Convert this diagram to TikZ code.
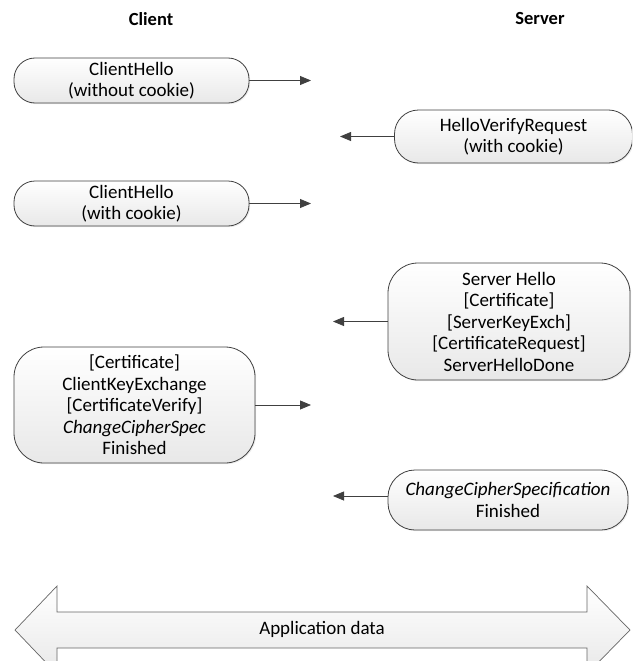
\documentclass[tikz,border=0pt]{standalone}
\usepackage{fontspec}
\setmainfont{Carlito}
\usetikzlibrary{arrows.meta,shadows}
\definecolor{edge}{HTML}{404040}
\tikzset{
  msg/.style={draw=edge, line width=0.8pt, top color=white, bottom color=black!9,
    align=center, inner sep=0pt, font=\fontsize{19}{21.5}\selectfont,
    drop shadow={opacity=0.15, shadow xshift=1.2pt, shadow yshift=-1.2pt}},
  flow/.style={draw=edge, line width=0.8pt, -{Triangle[length=11pt,width=9pt]}},
  head/.style={font=\fontsize{18.5}{20}\selectfont\bfseries}
}
\begin{document}
\begin{tikzpicture}[x=1pt,y=-1pt]
\useasboundingbox (0,0) rectangle (632,661);
\clip (0,0) rectangle (632,661);

% column headings
\node[head] (client) at (151,19) {Client};
\node[head] (server) at (540,19) {Server};

% handshake messages
\node[msg, rounded corners=21, minimum width=235, minimum height=45] (m1) at (131.5,80.5)
  {ClientHello\\(without cookie)};
\node[msg, rounded corners=24, minimum width=238, minimum height=53] (m2) at (513.5,136.5)
  {HelloVerifyRequest\\(with cookie)};
\node[msg, rounded corners=21, minimum width=235, minimum height=45] (m3) at (131.5,203.5)
  {ClientHello\\(with cookie)};
\node[msg, rounded corners=30, minimum width=242, minimum height=117] (m4) at (509,321.5)
  {Server Hello\\{[Certificate]}\\{[ServerKeyExch]}\\{[CertificateRequest]}\\ServerHelloDone};
\node[msg, rounded corners=30, minimum width=241, minimum height=116] (m5) at (134.5,405)
  {{[Certificate]}\\ClientKeyExchange\\{[CertificateVerify]}\\\textit{ChangeCipherSpec}\\Finished};
\node[msg, rounded corners=27, minimum width=240, minimum height=60] (m6) at (508,500)
  {\textit{ChangeCipherSpecification}\\Finished};

% arrow ends
\coordinate (e1) at (311,80.5);
\coordinate (e2) at (340,136.5);
\coordinate (e3) at (311,203.5);
\coordinate (e4) at (333,321.5);
\coordinate (e5) at (311,405);
\coordinate (e6) at (333,496);

\draw[flow] (m1.east) -- (e1);
\draw[flow] (m2.west) -- (e2);
\draw[flow] (m3.east) -- (e3);
\draw[flow] (m4.west) -- (e4);
\draw[flow] (m5.east) -- (e5);
\draw[flow] (m6.west |- e6) -- (e6);

% application data double arrow
\draw[draw=edge!80, line width=0.7pt, top color=white, bottom color=black!9]
  (15,630) -- (57,586) -- (57,612) -- (587,612) -- (587,586) -- (630,630)
  -- (587,674) -- (587,648) -- (57,648) -- (57,674) -- cycle;
\node[font=\fontsize{19}{20}\selectfont] (app) at (322,629) {Application data};
\end{tikzpicture}
\end{document}
